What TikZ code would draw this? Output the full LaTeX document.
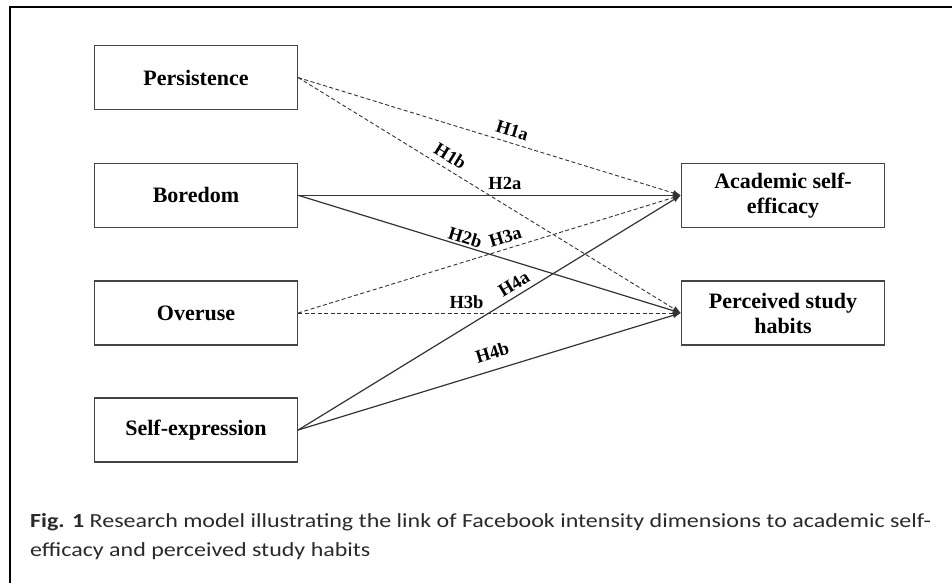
\documentclass[tikz,border=0pt]{standalone}
\usepackage{fontspec}
\setmainfont{Liberation Serif}
\newfontfamily\capfont[FakeStretch=1.2]{Carlito}
\usetikzlibrary{arrows.meta}
\definecolor{linec}{HTML}{333333}
\definecolor{boxc}{HTML}{444444}
\definecolor{capc}{HTML}{2a2a2a}
\tikzset{
  varbox/.style={draw=boxc, line width=1.3pt, minimum width=203pt, minimum height=64pt,
    inner sep=2pt, align=center, font=\bfseries\fontsize{22}{25}\selectfont},
  lab/.style={sloped, inner sep=1pt, font=\bfseries\fontsize{18.5}{20}\selectfont},
  solidarr/.style={draw=linec, line width=1.2pt, -{Latex[length=8pt,width=6pt]}},
  dasharr/.style={draw=linec, line width=0.9pt, dash pattern=on 4pt off 2.5pt, -{Latex[length=8pt,width=6pt]}},
  frameline/.style={line width=2pt, black},
  captext/.style={anchor=base west, inner sep=0pt, text=capc, font=\capfont\fontsize{20}{24}\selectfont}
}
\begin{document}
\begin{tikzpicture}[x=1pt, y=-1pt]
\useasboundingbox (0,0) rectangle (952,583);
% frame
\coordinate (fl) at (10,583);
\coordinate (fc) at (10,7);
\coordinate (fr) at (952,7);
\draw[frameline] (fl) -- (fc) -- (fr);
% boxes
\node[varbox] (per) at (196,77.6) {Persistence};
\node[varbox] (bor) at (196,195.3) {Boredom};
\node[varbox] (ove) at (196,313) {Overuse};
\node[varbox] (sel) at (196,430) {Self-expression};
\node[varbox] (ase) at (783,195.3) {Academic self-\\efficacy};
\node[varbox] (psh) at (783,313) {Perceived study\\habits};
% connectors
\draw[dasharr] (per.east) -- node[lab, pos=0.55, above=5pt] {H1a} (ase.west);
\draw[dasharr] (per.east) -- node[lab, pos=0.38, above=5pt] {H1b} (psh.west);
\draw[solidarr] (bor.east) -- node[lab, pos=0.54, above=4pt] {H2a} (ase.west);
\draw[solidarr] (bor.east) -- node[lab, pos=0.43, above=0.5pt] {H2b} (psh.west);
\draw[dasharr] (ove.east) -- node[lab, pos=0.55, above=4pt] {H3a} (ase.west);
\draw[dasharr] (ove.east) -- node[lab, pos=0.44, above=3pt] {H3b} (psh.west);
\draw[solidarr] (sel.east) -- node[lab, pos=0.58, above=4pt] {H4a} (ase.west);
\draw[solidarr] (sel.east) -- node[lab, pos=0.52, above=9pt] {H4b} (psh.west);
% caption
\node[captext] (cap1) at (30,527)
  {\textbf{Fig. 1} Research model illustrating the link of Facebook intensity dimensions to academic self-};
\node[captext] (cap2) at (30,556) {efficacy and perceived study habits};
\end{tikzpicture}
\end{document}
